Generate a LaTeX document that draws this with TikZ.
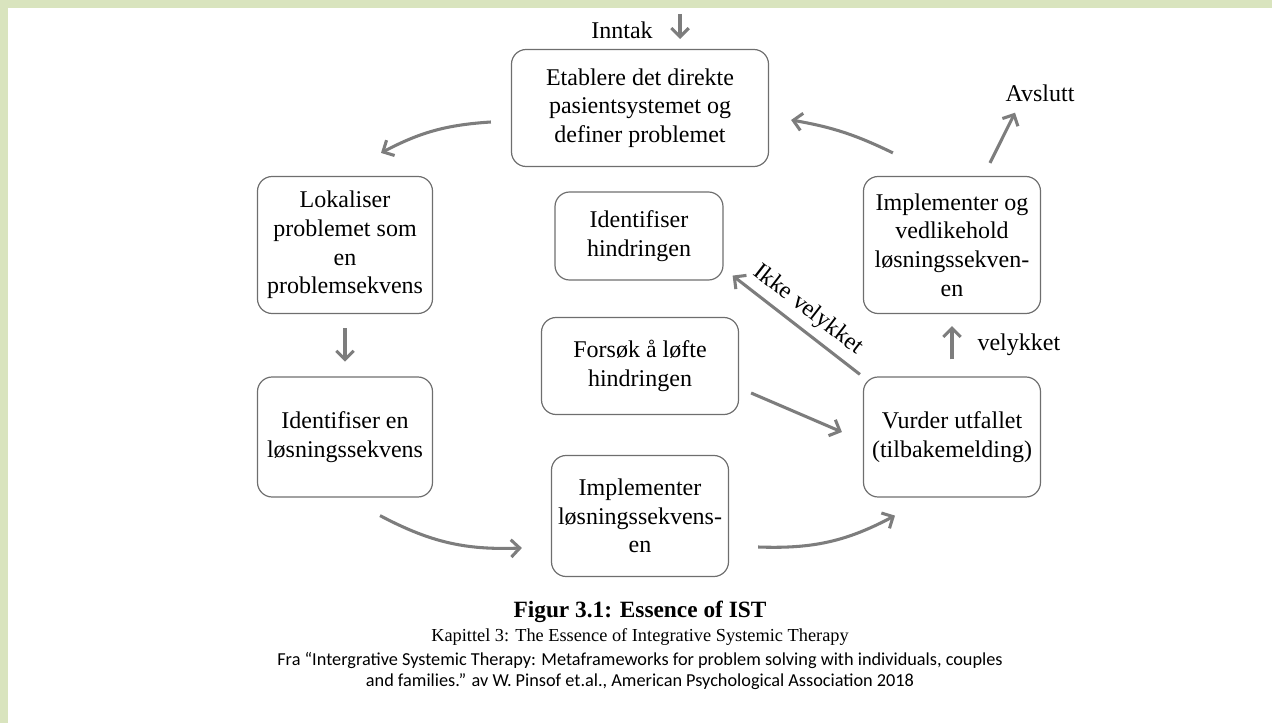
\documentclass[tikz,border=0pt]{standalone}
\usepackage{fontspec}
\setmainfont{Liberation Serif}
\newfontfamily\calibri{Carlito}
\usetikzlibrary{arrows.meta}

\definecolor{framegreen}{RGB}{217,228,190}
\definecolor{arrowgray}{RGB}{125,125,125}
\definecolor{boxgray}{RGB}{110,110,110}

\begin{document}
\begin{tikzpicture}[x=0.75pt, y=-0.75pt,
  stepbox/.style={draw=boxgray, line width=0.9pt, rounded corners=11pt,
    align=center, inner sep=0pt,
    font=\fontsize{18}{21.5}\selectfont},
  arr/.style={draw=arrowgray, line width=2.3pt,
    -{Straight Barb[length=6.5pt, width=13pt, line width=2.3pt]}},
  lbl/.style={font=\fontsize{18}{21.5}\selectfont, inner sep=0pt}]

  \useasboundingbox (0,0) rectangle (1272,723);
  \fill[framegreen] (0,0) rectangle (1272,8);
  \fill[framegreen] (0,0) rectangle (8,723);

  % boxes
  \node[stepbox, minimum width=192.75pt, minimum height=87.75pt] (etablere) at (640,108)
    {Etablere det direkte\\pasientsystemet og\\definer problemet};
  \node[stepbox, minimum width=131.25pt, minimum height=102.75pt] (lokaliser) at (345,245)
    {Lokaliser\\problemet som\\en\\problemsekvens};
  \node[stepbox, minimum width=131.25pt, minimum height=90pt] (identen) at (345,437)
    {Identifiser en\\løsningssekvens};
  \node[stepbox, minimum width=126pt, minimum height=66pt] (identhind) at (639,236)
    {Identifiser\\hindringen};
  \node[stepbox, minimum width=147.75pt, minimum height=72.75pt] (forsok) at (640,366)
    {Forsøk å løfte\\hindringen};
  \node[stepbox, minimum width=132.75pt, minimum height=90.75pt] (implement) at (640,516)
    {Implementer\\løsningssekvens-\\en};
  \node[stepbox, minimum width=132.75pt, minimum height=102.75pt] (implved) at (952,245)
    {Implementer og\\vedlikehold\\løsningssekven-\\en};
  \node[stepbox, minimum width=132.75pt, minimum height=90pt] (vurder) at (952,437)
    {Vurder utfallet\\(tilbakemelding)};

  \node[lbl] (inntak) at (622,30) {Inntak};
  \node[lbl] (avslutt) at (1040,93) {Avslutt};
  \coordinate (inntakstart) at (680,14);
  \coordinate (inntakend) at (680,39);

  % connectors
  \draw[arr] (inntakstart) -- (inntakend);
  \draw[arr] ([shift={(-20,14)}]etablere.west) to[bend right=12] ([shift={(36,-23)}]lokaliser.north);
  \draw[arr, shorten <=10.5pt, shorten >=11pt] (lokaliser.south) -- (identen.north);
  \draw[arr] ([shift={(35,18)}]identen.south) to[bend right=15] ([shift={(-29,32)}]implement.west);
  \draw[arr] ([shift={(29,31)}]implement.east) to[bend right=15] ([shift={(-57,18)}]vurder.south);
  \draw[arr] ([shift={(12,27)}]forsok.east) -- ([shift={(-21,-5)}]vurder.west);
  \draw[arr] ([shift={(-3,-2)}]vurder.north west) -- ([shift={(9,-5)}]identhind.south east)
    node[lbl, midway, sloped, above=5pt] {Ikke velykket};
  \draw[arr, shorten <=12.75pt, shorten >=9pt] (vurder.north) -- (implved.south)
    node[lbl, midway, right=18pt] {velykket};
  \draw[arr] ([shift={(38,-13)}]implved.north) -- ([shift={(-25,11)}]avslutt.south);
  \draw[arr] ([shift={(30,-23)}]implved.north west) to[bend right=8] ([shift={(22,12)}]etablere.east);

  % caption
  \node[font=\bfseries\fontsize{17.5}{20}\selectfont, inner sep=0pt] (figtitle) at (640,612)
    {Figur 3.1: Essence of IST};
  \node[font=\fontsize{13.75}{16}\selectfont, inner sep=0pt] (kapittel) at (640,637)
    {Kapittel 3: The Essence of Integrative Systemic Therapy};
  \node[font=\calibri\fontsize{13.7}{16}\selectfont, inner sep=0pt] (kilde1) at (640,660)
    {Fra “Intergrative Systemic Therapy: Metaframeworks for problem solving with individuals, couples};
  \node[font=\calibri\fontsize{13.7}{16}\selectfont, inner sep=0pt] (kilde2) at (640,682)
    {and families.” av W. Pinsof et.al., American Psychological Association 2018};

\end{tikzpicture}
\end{document}
